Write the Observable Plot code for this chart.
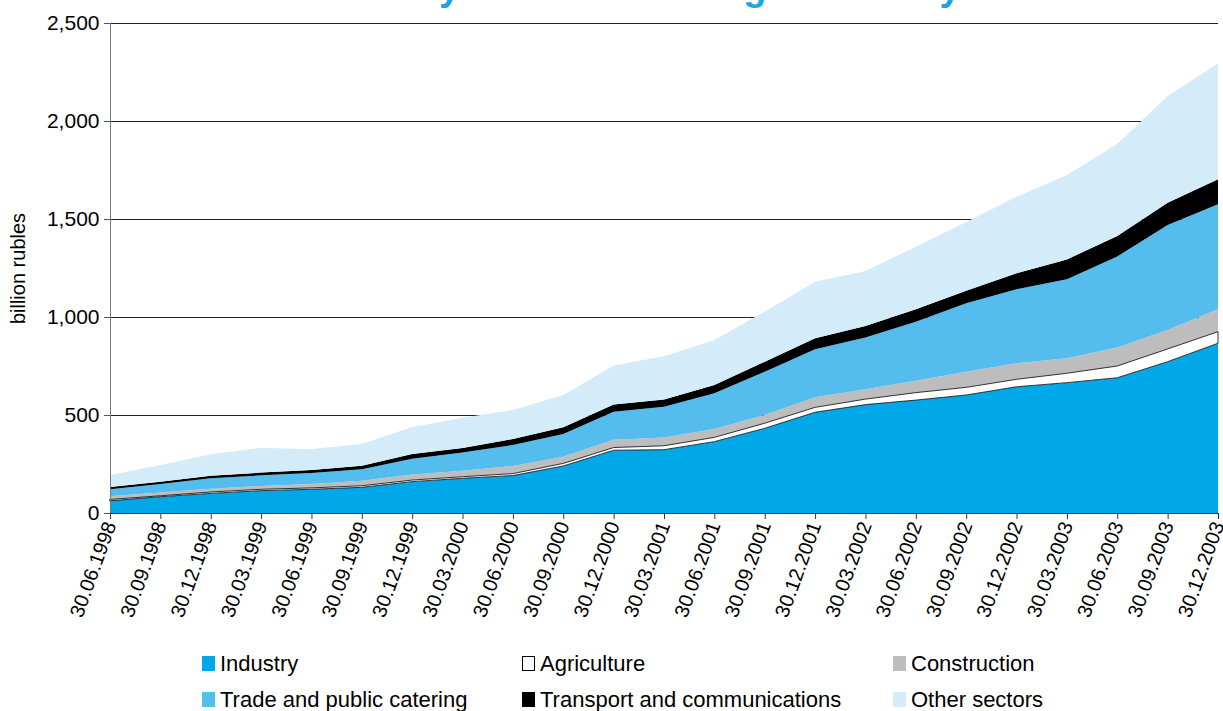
<!DOCTYPE html>
<html>
<head>
<meta charset="utf-8">
<script src="https://cdn.jsdelivr.net/npm/d3@7"></script>
<script src="https://cdn.jsdelivr.net/npm/@observablehq/plot@0.6"></script>
<style>
  html, body { margin: 0; padding: 0; background: #fff; overflow: hidden; }
  body { width: 1223px; height: 711px; position: relative; font-family: "Liberation Sans", Arial, sans-serif; }
  #title { position: absolute; z-index: 5; top: -28px; left: 0; width: 1235px; text-align: center; font-size: 38px; line-height: 30px; font-weight: bold; color: #1aa7e1; white-space: nowrap; }
  #chart { position: absolute; top: 0; left: 0; z-index: 1; }
  .leg { position: absolute; z-index: 2; font-size: 22px; line-height: 22px; color: #000; white-space: nowrap; }
  .sw { position: absolute; left: 0; top: 3px; width: 13px; height: 15px; box-sizing: border-box; }
  .leg span.t { position: absolute; left: 18px; top: 0; }
</style>
</head>
<body>
<div id="title">Credits by sectors in foreign currency</div>
<div id="chart"></div>
<div id="legend"></div>
<script>
const dates = ["30.06.1998","30.09.1998","30.12.1998","30.03.1999","30.06.1999","30.09.1999","30.12.1999","30.03.2000","30.06.2000","30.09.2000","30.12.2000","30.03.2001","30.06.2001","30.09.2001","30.12.2001","30.03.2002","30.06.2002","30.09.2002","30.12.2002","30.03.2003","30.06.2003","30.09.2003","30.12.2003"];
const series = ["Industry","Agriculture","Construction","Trade and public catering","Transport and communications","Other sectors"];
const colors = ["#00a8e8","#ffffff","#bdbdbd","#55bdee","#000000","#d4ebf9"];
const industry  = [62,83,100,114,121,131,160,177,191,240,320,323,364,432,514,553,576,602,644,665,690,772,866];
const agriculture = [7,5,7,7,7,8,8,8,10,13,14,20,22,26,25,28,38,39,38,48,60,65,59];
const construction = [17,16,17,17,20,25,29,30,39,34,40,42,43,42,51,50,61,80,82,76,95,97,114];
const trade = [35,44,53,54,56,59,80,94,107,116,142,157,182,221,245,264,301,349,377,404,464,535,536];
const transport = [12,12,13,14,15,18,24,22,31,34,37,37,42,51,56,59,63,64,82,101,104,114,128];
const other = [61,85,110,126,108,111,138,155,147,165,200,221,230,255,289,281,320,351,391,430,470,545,591];
const yTicks = [0,500,1000,1500,2000,2500];

const values = [industry, agriculture, construction, trade, transport, other];
const rows = [];
dates.forEach((d, i) => {
  let acc = 0;
  series.forEach((s, k) => {
    const v = values[k][i];
    rows.push({i, sector: s, y1: acc, y2: acc + v});
    acc += v;
  });
});

const plot = Plot.plot({
  width: 1223,
  height: 645,
  marginLeft: 110,
  marginRight: 5,
  marginTop: 23,
  marginBottom: 132,
  x: {domain: [0, dates.length - 1]},
  y: {domain: [0, 2500]},
  color: {domain: series, range: colors},
  style: {fontFamily: "'Liberation Sans', Arial, sans-serif", fontSize: "20px", color: "#000", background: "transparent", overflow: "visible"},
  marks: [
    Plot.gridY(yTicks, {stroke: "#222", strokeOpacity: 1, strokeWidth: 1}),
    Plot.areaY(rows, {x: "i", y1: "y1", y2: "y2", z: "sector", fill: "sector"}),
    Plot.areaY(rows.filter(r => r.sector === "Agriculture"), {x: "i", y1: "y1", y2: "y2", fill: "#fff", stroke: "#000", strokeWidth: 0.8}),
    Plot.ruleY([0], {stroke: "#333"}),
    Plot.ruleX([0], {stroke: "#777"}),
    Plot.axisY({ticks: yTicks, tickFormat: d3.format(","), tickSize: 6, tickPadding: 5, label: null, stroke: "#555", fontSize: 21}),
    Plot.axisX({ticks: d3.range(dates.length), tickFormat: i => dates[i], tickRotate: -70, tickSize: 6, tickPadding: 3, label: null, stroke: "#333", fontSize: 20}),
    Plot.text(["billion rubles"], {frameAnchor: "left", textAnchor: "middle", rotate: -90, dx: -92, dy: 0, fontSize: 20, fill: "#000"})
  ]
});
document.getElementById("chart").appendChild(plot);

const legend = document.getElementById("legend");
const lefts = [202, 522, 893];
const tops = [653, 689];
series.forEach((s, k) => {
  const item = document.createElement("div");
  item.className = "leg";
  item.style.left = lefts[k % 3] + "px";
  item.style.top = tops[Math.floor(k / 3)] + "px";
  const sw = document.createElement("div");
  sw.className = "sw";
  sw.style.background = colors[k];
  if (s === "Agriculture") sw.style.border = "1px solid #000";
  const t = document.createElement("span");
  t.className = "t";
  t.textContent = s;
  item.appendChild(sw);
  item.appendChild(t);
  legend.appendChild(item);
});
</script>
</body>
</html>
